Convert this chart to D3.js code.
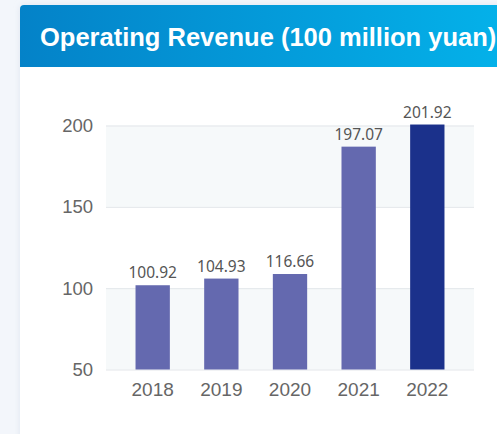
<!DOCTYPE html>
<html>
<head>
<meta charset="utf-8">
<script src="https://cdn.jsdelivr.net/npm/d3@7"></script>
<style>
    html, body { margin: 0; padding: 0; background: #f3f6fb; overflow: hidden; }
    svg { display: block; font-family: "Liberation Sans", Arial, sans-serif; }
</style>
</head>
<body>
<div id="chart"></div>
<script>
// chart data
var years = ['2018', '2019', '2020', '2021', '2022'];
var barValues = [101.8, 105.9, 108.7, 187.0, 200.6];   // bar heights as drawn
var valueLabels = ['100.92', '104.93', '116.66', '197.07', '201.92'];
var yTicks = [50, 100, 150, 200];
var title = 'Operating Revenue (100 million yuan)';

var W = 497, H = 434;

var svg = d3.select('#chart').append('svg')
    .attr('width', W)
    .attr('height', H);

var defs = svg.append('defs');
var grad = defs.append('linearGradient')
    .attr('id', 'titleGrad')
    .attr('x1', '0%').attr('x2', '100%')
    .attr('y1', '0%').attr('y2', '0%');
grad.append('stop').attr('offset', '0%').attr('stop-color', '#0482c8');
grad.append('stop').attr('offset', '100%').attr('stop-color', '#04b2ea');

var shadow = defs.append('filter').attr('id', 'shadow')
    .attr('x', '-10%').attr('y', '-10%').attr('width', '120%').attr('height', '120%');
shadow.append('feDropShadow')
    .attr('dx', 0).attr('dy', 0).attr('stdDeviation', 3)
    .attr('flood-color', '#b8c4d8').attr('flood-opacity', 0.35);

// card
svg.append('rect')
    .attr('x', 20).attr('y', 5)
    .attr('width', 490).attr('height', 450)
    .attr('rx', 4)
    .attr('fill', '#fff')
    .attr('filter', 'url(#shadow)');

// title bar
svg.append('path')
    .attr('d', 'M20,67 L20,9 Q20,5 24,5 L510,5 L510,67 Z')
    .attr('fill', 'url(#titleGrad)');

svg.append('text')
    .attr('x', 40).attr('y', 45.5)
    .attr('fill', '#fff')
    .attr('font-size', 25.5)
    .attr('font-weight', 'bold')
    .text(title);

// scales
var x = d3.scaleBand()
    .domain(years)
    .range([106, 474])
    .paddingInner(0.5)
    .paddingOuter(0.43);

var y = d3.scaleLinear()
    .domain([50, 200])
    .range([369.5, 125.5]);

// alternating background bands
var bandPairs = d3.pairs(yTicks);
svg.append('g').selectAll('rect')
    .data(bandPairs)
    .join('rect')
    .attr('x', 106)
    .attr('width', 368)
    .attr('y', d => y(d[1]))
    .attr('height', d => y(d[0]) - y(d[1]))
    .attr('fill', (d, i) => i % 2 === 0 ? '#f6f9fa' : '#ffffff');

// y axis (grid + labels)
var yAxis = d3.axisLeft(y)
    .tickValues(yTicks)
    .tickSize(-368)
    .tickPadding(13);

var gy = svg.append('g')
    .attr('transform', 'translate(106,0)')
    .call(yAxis);
gy.select('.domain').remove();
gy.selectAll('.tick line').attr('stroke', '#e3e6ea');
gy.selectAll('.tick text')
    .attr('fill', '#666')
    .attr('font-size', 18.5)
    .attr('font-family', '"Liberation Sans", Arial, sans-serif');

// bars
svg.append('g').selectAll('rect')
    .data(years)
    .join('rect')
    .attr('x', d => x(d))
    .attr('width', x.bandwidth())
    .attr('y', (d, i) => y(barValues[i]))
    .attr('height', (d, i) => y(50) - y(barValues[i]))
    .attr('fill', (d, i) => i === years.length - 1 ? '#1b318b' : '#6469af');

// value labels
svg.append('g').selectAll('text')
    .data(years)
    .join('text')
    .attr('x', d => x(d) + x.bandwidth() / 2)
    .attr('y', (d, i) => y(barValues[i]) - 7)
    .attr('text-anchor', 'middle')
    .attr('fill', '#555')
    .attr('font-size', 15.5)
    .attr('font-family', '"Noto Sans", "Open Sans", sans-serif')
    .text((d, i) => valueLabels[i]);

// x axis
var xAxis = d3.axisBottom(x).tickSize(0).tickPadding(13);
var gx = svg.append('g')
    .attr('transform', 'translate(0,' + y(50) + ')')
    .call(xAxis);
gx.select('.domain').remove();
gx.selectAll('.tick text')
    .attr('fill', '#666')
    .attr('font-size', 19)
    .attr('font-family', '"Liberation Sans", Arial, sans-serif');
</script>
</body>
</html>
